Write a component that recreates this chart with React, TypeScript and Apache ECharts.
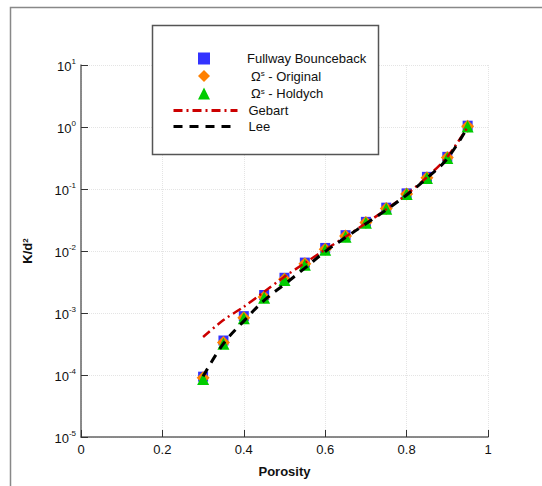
import React, { useEffect, useRef } from "react";
import * as echarts from "echarts";

const porosity = [0.3, 0.35, 0.4, 0.45, 0.5, 0.55, 0.6, 0.65, 0.7, 0.75, 0.8, 0.85, 0.9, 0.95];
const fullway = [9.4e-5, 3.6e-4, 8.9e-4, 1.95e-3, 3.7e-3, 6.5e-3, 1.12e-2, 1.8e-2, 2.95e-2, 5.0e-2, 8.5e-2, 0.157, 0.33, 1.05];
const omegaOriginal = [9.0e-5, 3.35e-4, 8.4e-4, 1.82e-3, 3.5e-3, 6.2e-3, 1.07e-2, 1.74e-2, 2.88e-2, 4.85e-2, 8.3e-2, 0.152, 0.322, 1.03];
const omegaHoldych = [8.6e-5, 3.2e-4, 8.2e-4, 1.76e-3, 3.4e-3, 6.0e-3, 1.05e-2, 1.7e-2, 2.85e-2, 4.8e-2, 8.3e-2, 0.15, 0.315, 1.02];
const gebart = [4.1e-4, 7.7e-4, 1.26e-3, 2.2e-3, 3.85e-3, 6.4e-3, 1.05e-2, 1.7e-2, 2.8e-2, 4.7e-2, 8.2e-2, 0.155, 0.33, 1.0];
const lee = [9.5e-5, 3.2e-4, 7.4e-4, 1.6e-3, 2.9e-3, 5.3e-3, 9.8e-3, 1.65e-2, 2.75e-2, 4.6e-2, 8.0e-2, 0.15, 0.31, 1.0];

const xTicks = { min: 0, max: 1, interval: 0.2 };
const yRange = { min: 1e-5, max: 10 };

const names = ["Fullway Bounceback", "\u03A9s - Original", "\u03A9s - Holdych", "Gebart", "Lee"];

const FONT = "'Liberation Sans', Arial, Helvetica, sans-serif";

const pairs = (ys: number[]) => porosity.map((x, i) => [x, ys[i]]);

export default function App() {
  const ref = useRef<HTMLDivElement>(null);
  useEffect(() => {
    if (!ref.current) return;
    const chart = echarts.init(ref.current, undefined, { renderer: "svg" });
    const legendRich = {
      t: { fontSize: 13, color: "#111", fontFamily: FONT },
      s: { fontSize: 8, color: "#111", fontFamily: FONT, verticalAlign: "top" as const },
      sp1: { width: 32 },
      sp2: { width: 36 },
      sp3: { width: 6 },
    };
    chart.setOption({
      animation: false,
      backgroundColor: "#fff",
      textStyle: { fontFamily: FONT },
      grid: { left: 81, right: 54, top: 65, bottom: 49, containLabel: false },
      graphic: [
        {
          type: "rect",
          z: 0,
          silent: true,
          shape: { x: 10.5, y: 7.5, width: 700, height: 700 },
          style: { fill: "none", stroke: "#888", lineWidth: 1.5 },
        },
        {
          type: "rect",
          z: 3,
          silent: true,
          shape: { x: 152.5, y: 25.5, width: 226, height: 129 },
          style: { fill: "#fff", stroke: "#555", lineWidth: 1.5 },
        },
      ],
      legend: [
        {
          data: names.slice(0, 3),
          orient: "vertical",
          left: 198,
          top: 52,
          padding: 0,
          itemWidth: 12,
          itemHeight: 12,
          itemGap: 4.5,
          selectedMode: false,
          z: 5,
          textStyle: { rich: legendRich, fontSize: 13 },
          formatter: (n: string) => {
            if (n.startsWith("\u03A9")) {
              return `{sp2|}{t|\u03A9}{s|s}{t|${n.slice(2)}}`;
            }
            return `{sp1|}{t|${n}}`;
          },
        },
        {
          data: names.slice(3),
          orient: "vertical",
          left: 172,
          top: 104,
          padding: 0,
          itemWidth: 64,
          itemHeight: 14,
          itemGap: 3,
          selectedMode: false,
          z: 5,
          itemStyle: { opacity: 0 },
          lineStyle: { width: 3 },
          textStyle: { rich: legendRich, fontSize: 13 },
          formatter: (n: string) => `{sp3|}{t|${n}}`,
        },
      ],
      xAxis: {
        type: "value",
        min: xTicks.min,
        max: xTicks.max,
        interval: xTicks.interval,
        name: "Porosity",
        nameLocation: "middle",
        nameGap: 28,
        nameTextStyle: { fontSize: 13, fontWeight: "bold", color: "#111", fontFamily: FONT },
        axisLine: { show: true, lineStyle: { color: "#666", width: 1.5 } },
        axisTick: { show: true, inside: true, length: 7, lineStyle: { color: "#333", width: 1 } },
        axisLabel: { fontSize: 13, color: "#111", margin: 6, fontFamily: FONT },
        splitLine: { show: true, lineStyle: { color: "#e4e4e4", type: "dotted", width: 1 } },
      },
      yAxis: {
        type: "log",
        logBase: 10,
        min: yRange.min,
        max: yRange.max,
        name: "{b|K/d}{s|2}",
        nameLocation: "middle",
        nameGap: 47,
        nameRotate: 90,
        nameTextStyle: {
          rich: {
            b: { fontSize: 13, fontWeight: "bold", color: "#111", fontFamily: FONT },
            s: { fontSize: 8, fontWeight: "bold", color: "#111", fontFamily: FONT, verticalAlign: "top" },
          },
        },
        axisLine: { show: true, lineStyle: { color: "#666", width: 1.5 } },
        axisTick: { show: true, inside: true, length: 7, lineStyle: { color: "#333", width: 1 } },
        minorTick: { show: false },
        axisLabel: {
          margin: 5,
          formatter: (v: number) => `{b|10}{s|${Math.round(Math.log10(v))}}`,
          rich: {
            b: { fontSize: 13, color: "#111", fontFamily: FONT, lineHeight: 16, verticalAlign: "bottom" },
            s: { fontSize: 8, color: "#111", fontFamily: FONT, lineHeight: 9, verticalAlign: "top" },
          },
        },
        splitLine: { show: true, lineStyle: { color: "#e4e4e4", type: "dotted", width: 1 } },
      },
      series: [
        {
          name: names[0],
          type: "scatter",
          symbol: "rect",
          symbolSize: 10,
          itemStyle: { color: "#3333ff", opacity: 1 },
          data: pairs(fullway),
          z: 2,
        },
        {
          name: names[1],
          type: "scatter",
          symbol: "diamond",
          symbolSize: 13,
          itemStyle: { color: "#ff8000", opacity: 1 },
          data: pairs(omegaOriginal),
          z: 2,
        },
        {
          name: names[2],
          type: "scatter",
          symbol: "triangle",
          symbolSize: 12,
          itemStyle: { color: "#00cc00", opacity: 1 },
          data: pairs(omegaHoldych),
          z: 2,
        },
        {
          name: names[3],
          type: "line",
          symbol: "none",
          smooth: 0.3,
          lineStyle: { color: "#cc0000", width: 2.5, type: [9, 4, 2, 4] },
          itemStyle: { color: "#cc0000" },
          data: pairs(gebart),
          z: 3,
        },
        {
          name: names[4],
          type: "line",
          symbol: "none",
          smooth: 0.4,
          lineStyle: { color: "#000", width: 3, type: [9, 7] },
          itemStyle: { color: "#000" },
          data: pairs(lee),
          z: 3,
        },
      ],
    });
    return () => chart.dispose();
  }, []);
  return (
    <div
      ref={ref}
      style={{ position: "fixed", left: 0, top: 0, width: 542, height: 486, background: "#fff" }}
    />
  );
}
